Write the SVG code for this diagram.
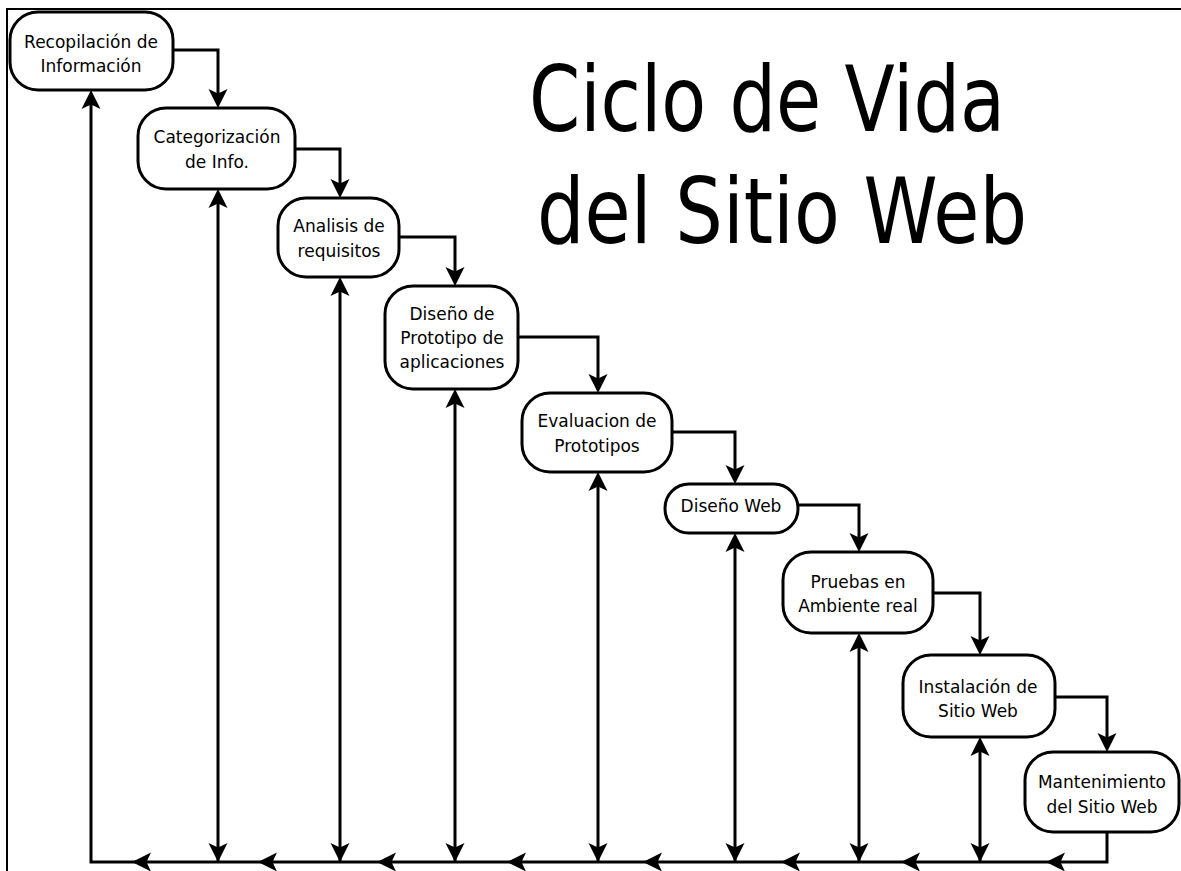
<svg xmlns="http://www.w3.org/2000/svg" width="1181" height="871" viewBox="0 0 1181 871">
<style>
.box{fill:#fff;stroke:#000;stroke-width:3}
.lbl{font-family:"DejaVu Sans","Liberation Sans",sans-serif;font-size:17px;fill:#000;text-anchor:middle}
.ttl{font-family:"DejaVu Sans","Liberation Sans",sans-serif;font-size:90px;fill:#000}
.ln{fill:none;stroke:#000;stroke-width:3}
</style>
<defs>
<path id="ah" d="M0,0 L-9.5,-19 L0,-14.5 L9.5,-19 Z" fill="#000"/>
</defs>
<rect width="1181" height="871" fill="#fff"/>
<path d="M7,871 V9 H1181" fill="none" stroke="#000" stroke-width="2"/>
<g id="title">
<text class="ttl" x="529" y="131" textLength="476" lengthAdjust="spacingAndGlyphs">Ciclo de Vida</text>
<text class="ttl" x="537" y="243" textLength="490" lengthAdjust="spacingAndGlyphs">del Sitio Web</text>
</g>
<g id="connectors">
<path class="ln" d="M173,50 H218 V100"/>
<path class="ln" d="M295,149 H340 V190"/>
<path class="ln" d="M399,237 H455 V278"/>
<path class="ln" d="M518,337 H598 V385"/>
<path class="ln" d="M672,432 H735 V476"/>
<path class="ln" d="M798,505 H859 V544"/>
<path class="ln" d="M933,593 H980 V647"/>
<path class="ln" d="M1055,697 H1107 V744"/>
<path class="ln" d="M1107,832 V862 H91 V98"/>
<path class="ln" d="M218,197 V862 M340,285 V862 M455,397 V862 M598,480 V862 M735,541 V862 M859,641 V862 M980,745 V862"/>
<use href="#ah" transform="translate(218,108)"/>
<use href="#ah" transform="translate(340,198)"/>
<use href="#ah" transform="translate(455,286)"/>
<use href="#ah" transform="translate(598,393)"/>
<use href="#ah" transform="translate(735,484)"/>
<use href="#ah" transform="translate(859,552)"/>
<use href="#ah" transform="translate(980,655)"/>
<use href="#ah" transform="translate(1107,752)"/>
<use href="#ah" transform="translate(91,90) rotate(180)"/>
<use href="#ah" transform="translate(218,189) rotate(180)"/>
<use href="#ah" transform="translate(340,277) rotate(180)"/>
<use href="#ah" transform="translate(455,389) rotate(180)"/>
<use href="#ah" transform="translate(598,472) rotate(180)"/>
<use href="#ah" transform="translate(735,533) rotate(180)"/>
<use href="#ah" transform="translate(859,633) rotate(180)"/>
<use href="#ah" transform="translate(980,737) rotate(180)"/>
<use href="#ah" transform="translate(218,862)"/>
<use href="#ah" transform="translate(340,862)"/>
<use href="#ah" transform="translate(455,862)"/>
<use href="#ah" transform="translate(598,862)"/>
<use href="#ah" transform="translate(735,862)"/>
<use href="#ah" transform="translate(859,862)"/>
<use href="#ah" transform="translate(980,862)"/>
<use href="#ah" transform="translate(132,862) rotate(90)"/>
<use href="#ah" transform="translate(258,862) rotate(90)"/>
<use href="#ah" transform="translate(377,862) rotate(90)"/>
<use href="#ah" transform="translate(507,862) rotate(90)"/>
<use href="#ah" transform="translate(643,862) rotate(90)"/>
<use href="#ah" transform="translate(781,862) rotate(90)"/>
<use href="#ah" transform="translate(901,862) rotate(90)"/>
<use href="#ah" transform="translate(1046,862) rotate(90)"/>
</g>
<g id="n1"><rect class="box" x="10" y="12" width="163" height="78" rx="28"/><text class="lbl" x="91" y="48">Recopilación de</text><text class="lbl" x="91" y="72">Información</text></g>
<g id="n2"><rect class="box" x="138" y="108" width="157" height="81" rx="28"/><text class="lbl" x="217" y="143">Categorización</text><text class="lbl" x="217" y="168">de Info.</text></g>
<g id="n3"><rect class="box" x="278" y="198" width="121" height="79" rx="28"/><text class="lbl" x="339" y="232">Analisis de</text><text class="lbl" x="339" y="257">requisitos</text></g>
<g id="n4"><rect class="box" x="385" y="286" width="133" height="103" rx="28"/><text class="lbl" x="452" y="320">Diseño de</text><text class="lbl" x="452" y="344">Prototipo de</text><text class="lbl" x="452" y="368">aplicaciones</text></g>
<g id="n5"><rect class="box" x="522" y="393" width="150" height="79" rx="28"/><text class="lbl" x="597" y="427">Evaluacion de</text><text class="lbl" x="597" y="452">Prototipos</text></g>
<g id="n6"><rect class="box" x="665" y="484" width="133" height="49" rx="24"/><text class="lbl" x="731" y="512">Diseño Web</text></g>
<g id="n7"><rect class="box" x="783" y="552" width="150" height="81" rx="28"/><text class="lbl" x="858" y="588">Pruebas en</text><text class="lbl" x="858" y="612">Ambiente real</text></g>
<g id="n8"><rect class="box" x="903" y="655" width="152" height="82" rx="28"/><text class="lbl" x="978" y="693">Instalación de</text><text class="lbl" x="978" y="717">Sitio Web</text></g>
<g id="n9"><rect class="box" x="1025" y="752" width="154" height="80" rx="28"/><text class="lbl" x="1102" y="788">Mantenimiento</text><text class="lbl" x="1102" y="813">del Sitio Web</text></g>
</svg>
